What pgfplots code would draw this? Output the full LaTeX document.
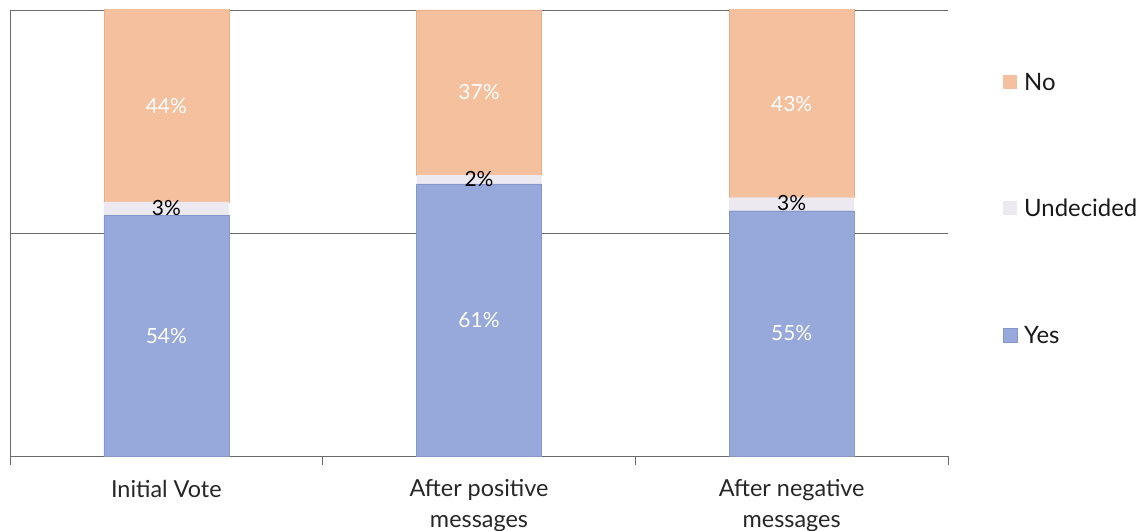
\documentclass[border=0pt]{standalone}
\usepackage{pgfplots}
\pgfplotsset{compat=1.18}
\usepackage{pgfplotstable}
\usepackage{fontspec}
\setmainfont{Lato}

\definecolor{noCol}{HTML}{F4C09E}
\definecolor{undCol}{HTML}{ECEAF0}
\definecolor{yesCol}{HTML}{97A9DA}
\definecolor{frameCol}{HTML}{6A6A6A}
\definecolor{yesEdge}{HTML}{8497C8}
\definecolor{noEdge}{HTML}{E6AE8A}

% vote shares per stage (percent)
\pgfplotstableread{
x yes und no
0 54  3  44
1 61  2  37
2 55  3  43
}\votes

\tikzset{seglab/.style={font=\fontsize{21}{22}\selectfont}}
\tikzset{legtext/.style={anchor=west, inner sep=0pt, text=black!90, font=\fontsize{24}{26}\selectfont}}

\begin{document}
\begin{tikzpicture}
\begin{axis}[
  at={(0bp,0bp)}, anchor=south west,
  scale only axis,
  width=938bp, height=446bp,
  ybar stacked, bar width=125bp,
  xmin=-0.5, xmax=2.5, ymin=0, ymax=100,
  axis x line*=bottom, axis y line*=left,
  axis line style={frameCol, line width=0.8bp, -},
  xtick={0,1,2},
  xticklabels={{Initial Vote}, {After positive\\messages}, {After negative\\messages}},
  xticklabel style={align=center, font=\fontsize{23.5}{31}\selectfont, text=black!85, anchor=north, yshift=-16bp},
  major x tick style={draw=none},
  minor xtick={-0.5,0.5,1.5,2.5},
  minor tick length=9bp,
  minor x tick style={frameCol, line width=0.8bp},
  tick align=outside,
  ytick={50}, yticklabels={},
  major y tick style={draw=none},
  ymajorgrids, grid style={frameCol, line width=0.8bp},
]
\addplot[fill=yesCol, draw=yesEdge, line width=0.3bp] table[x=x, y=yes] {\votes};
\addplot[fill=undCol, draw=none] table[x=x, y=und] {\votes};
\addplot[fill=noCol, draw=noEdge, line width=0.3bp] table[x=x, y=no] {\votes};

\draw[frameCol, line width=0.8bp] (rel axis cs:0,1) -- (rel axis cs:1,1);

% anchor points for the segment labels (middle of each visible segment)
\coordinate (y0) at (axis cs:0,27);
\coordinate (y1) at (axis cs:1,30.5);
\coordinate (y2) at (axis cs:2,27.5);
\coordinate (u0) at (axis cs:0,55.5);
\coordinate (u1) at (axis cs:1,62);
\coordinate (u2) at (axis cs:2,56.8);
\coordinate (n0) at (axis cs:0,78.5);
\coordinate (n1) at (axis cs:1,81.5);
\coordinate (n2) at (axis cs:2,79);
\end{axis}

% segment labels, set above the bars
\node[seglab, text=white] at (y0) {54\%};
\node[seglab, text=white] at (y1) {61\%};
\node[seglab, text=white] at (y2) {55\%};
\node[seglab, text=black] at (u0) {3\%};
\node[seglab, text=black] at (u1) {2\%};
\node[seglab, text=black] at (u2) {3\%};
\node[seglab, text=white] at (n0) {44\%};
\node[seglab, text=white] at (n1) {37\%};
\node[seglab, text=white] at (n2) {43\%};

% legend
\fill[noCol] (993bp,367bp) rectangle ++(14bp,14bp);
\node[legtext] at (1014bp,374bp) {No};
\fill[undCol] (993bp,241bp) rectangle ++(14bp,14bp);
\node[legtext] at (1014bp,248bp) {Undecided};
\fill[yesCol] (993bp,114bp) rectangle ++(14bp,14bp);
\draw[yesEdge, line width=0.3bp] (993bp,114bp) rectangle ++(14bp,14bp);
\node[legtext] at (1014bp,121bp) {Yes};

\pgfresetboundingbox
\path (-10bp,-75bp) rectangle (1130bp,456bp);
\end{tikzpicture}
\end{document}
